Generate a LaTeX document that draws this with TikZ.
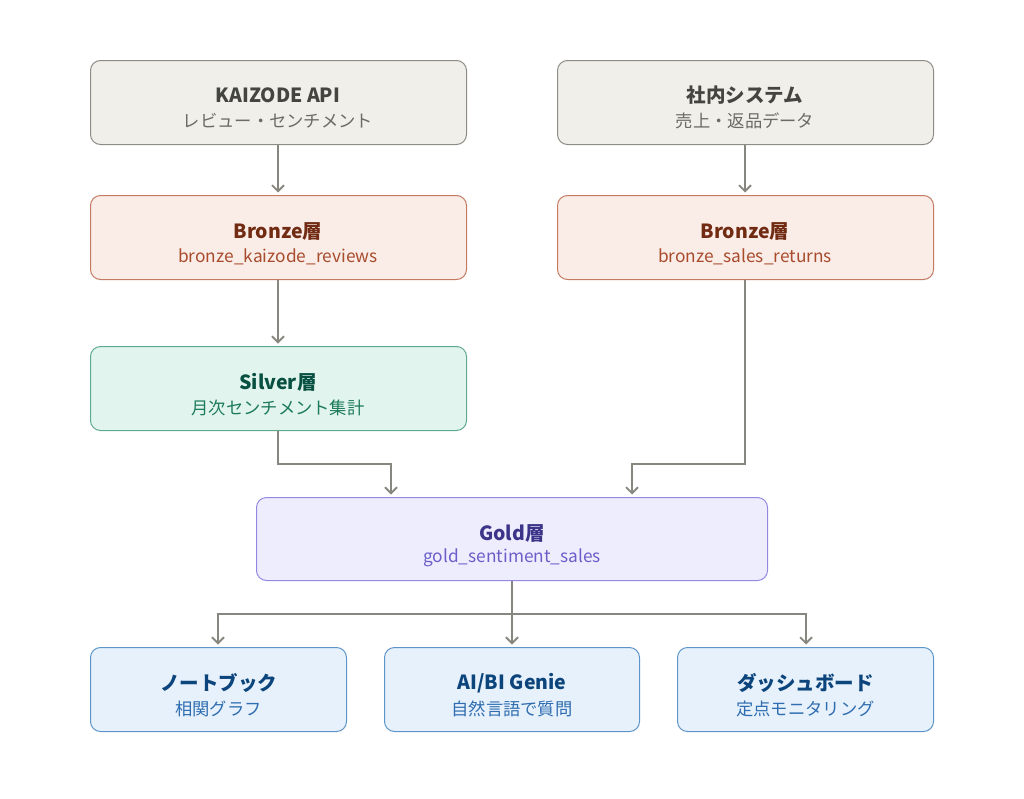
\documentclass[tikz,border=0pt]{standalone}
\usepackage{fontspec}
\setmainfont{Noto Sans CJK JP}
\usetikzlibrary{arrows.meta}
\definecolor{srcfill}{HTML}{F1EFE9}\definecolor{srcdraw}{HTML}{8E8C86}
\definecolor{srctitle}{HTML}{444441}\definecolor{srcsub}{HTML}{6B6A65}
\definecolor{brfill}{HTML}{FAECE7}\definecolor{brdraw}{HTML}{C47B63}
\definecolor{brtitle}{HTML}{712B13}\definecolor{brsub}{HTML}{A84C2D}
\definecolor{slfill}{HTML}{E1F5EE}\definecolor{sldraw}{HTML}{5FAA8C}
\definecolor{sltitle}{HTML}{085041}\definecolor{slsub}{HTML}{1D7A5A}
\definecolor{gdfill}{HTML}{EEEDFE}\definecolor{gddraw}{HTML}{9288E0}
\definecolor{gdtitle}{HTML}{3C3489}\definecolor{gdsub}{HTML}{6A5FC8}
\definecolor{usfill}{HTML}{E6F1FB}\definecolor{usdraw}{HTML}{5E95C9}
\definecolor{ustitle}{HTML}{0C447C}\definecolor{ussub}{HTML}{2F6DB0}
\definecolor{conn}{HTML}{878780}
\tikzset{
  box/.style={draw, rounded corners=10pt, line width=1pt},
  ttl/.style={font=\fontsize{19.5}{22}\selectfont\bfseries, anchor=center, inner sep=0pt},
  sub/.style={font=\fontsize{17.3}{20}\selectfont, anchor=center, inner sep=0pt},
  flow/.style={draw=conn, line width=2pt, -{Straight Barb[length=6pt,width=12pt,line width=1.8pt]}},
  frame/.style={inner sep=0pt, outer sep=0pt},
}
\begin{document}
\begin{tikzpicture}[x=1pt,y=-1pt]
\useasboundingbox (0,0) rectangle (1024,798);
\fill[white] (0,0) rectangle (1024,798);
% boxes
\path[box, fill=srcfill, draw=srcdraw] (90.5,60.5) rectangle (466.5,144.5);
\node[ttl, text=srctitle] (kt) at (278,95) {KAIZODE API};
\node[sub, text=srcsub] (ks) at (278,121) {レビュー・センチメント};
\node[frame, minimum width=376pt, minimum height=84pt] (kai) at (278.5,102.5) {};

\path[box, fill=srcfill, draw=srcdraw] (557.5,60.5) rectangle (933.5,144.5);
\node[ttl, text=srctitle] (st) at (745,95) {社内システム};
\node[sub, text=srcsub] (ss) at (745,121) {売上・返品データ};
\node[frame, minimum width=376pt, minimum height=84pt] (sys) at (745.5,102.5) {};

\path[box, fill=brfill, draw=brdraw] (90.5,195.5) rectangle (466.5,279.5);
\node[ttl, text=brtitle] (b1t) at (278,231) {Bronze層};
\node[sub, text=brsub] (b1s) at (278,257) {bronze\_kaizode\_reviews};
\node[frame, minimum width=376pt, minimum height=84pt] (br1) at (278.5,237.5) {};

\path[box, fill=brfill, draw=brdraw] (557.5,195.5) rectangle (933.5,279.5);
\node[ttl, text=brtitle] (b2t) at (745,231) {Bronze層};
\node[sub, text=brsub] (b2s) at (745,257) {bronze\_sales\_returns};
\node[frame, minimum width=376pt, minimum height=84pt] (br2) at (745.5,237.5) {};

\path[box, fill=slfill, draw=sldraw] (90.5,346.5) rectangle (466.5,430.5);
\node[ttl, text=sltitle] (slt) at (278,382) {Silver層};
\node[sub, text=slsub] (sls) at (278,408) {月次センチメント集計};
\node[frame, minimum width=376pt, minimum height=84pt] (sl) at (278.5,388.5) {};

\path[box, fill=gdfill, draw=gddraw] (256.5,497.5) rectangle (767.5,580.5);
\node[ttl, text=gdtitle] (gdt) at (512,533) {Gold層};
\node[sub, text=gdsub] (gds) at (512,558) {gold\_sentiment\_sales};
\node[frame, minimum width=511pt, minimum height=83pt] (gd) at (512,539) {};

\path[box, fill=usfill, draw=usdraw] (90.5,647.5) rectangle (346.5,731.5);
\node[ttl, text=ustitle] (u1t) at (218.5,683) {ノートブック};
\node[sub, text=ussub] (u1s) at (218.5,709) {相関グラフ};
\node[frame, minimum width=256pt, minimum height=84pt] (u1) at (218.5,689.5) {};

\path[box, fill=usfill, draw=usdraw] (384.5,647.5) rectangle (639.5,731.5);
\node[ttl, text=ustitle] (u2t) at (512,683) {AI/BI Genie};
\node[sub, text=ussub] (u2s) at (512,709) {自然言語で質問};
\node[frame, minimum width=255pt, minimum height=84pt] (u2) at (512,689.5) {};

\path[box, fill=usfill, draw=usdraw] (677.5,647.5) rectangle (933.5,731.5);
\node[ttl, text=ustitle] (u3t) at (805.5,683) {ダッシュボード};
\node[sub, text=ussub] (u3s) at (805.5,709) {定点モニタリング};
\node[frame, minimum width=256pt, minimum height=84pt] (u3) at (805.5,689.5) {};

% connectors
\path[flow] (278,145) -- ([yshift=3pt]br1.north -| 278,0);
\path[flow] (745,145) -- ([yshift=3pt]br2.north -| 745,0);
\path[flow] (278,280) -- ([yshift=3pt]sl.north -| 278,0);
\path[flow] (278,431) -- (278,464) -- (391,464) -- ([yshift=3pt]gd.north -| 391,0);
\path[flow] (745,280) -- (745,464) -- (632,464) -- ([yshift=3pt]gd.north -| 632,0);
\coordinate (split) at (512,614);
\draw[conn, line width=2pt] (gd.south) -- (split);
\draw[conn, line width=2pt] (217,614) -- (807,614);
\path[flow] (218,613) -- ([yshift=3pt]u1.north -| 218,0);
\path[flow] (512,613) -- ([yshift=3pt]u2.north);
\path[flow] (806,613) -- ([yshift=3pt]u3.north -| 806,0);
\end{tikzpicture}
\end{document}
